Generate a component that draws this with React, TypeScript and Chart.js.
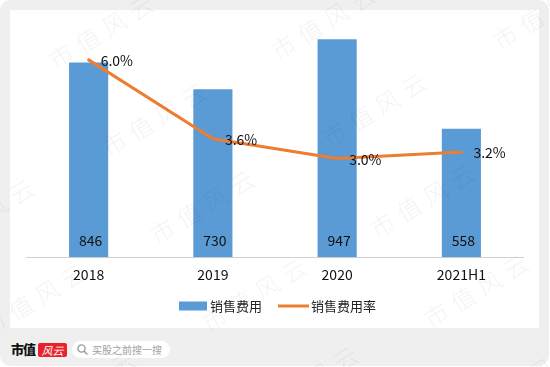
import React, { useEffect, useRef } from "react";
import { Chart, registerables } from "chart.js";

Chart.register(...registerables);

const categories = ["2018", "2019", "2020", "2021H1"];
const salesExpense = [846, 730, 947, 558];
const salesExpenseRate = [6.0, 3.6, 3.0, 3.2];
const seriesNames = ["销售费用", "销售费用率"];
const watermarkText = "市值风云";
const brandText = "市值";
const brandBadgeText = "风云";
const searchText = "买股之前搜一搜";

const FONT = "'Noto Sans CJK SC', 'Microsoft YaHei', sans-serif";
const BAR_COLOR = "#5B9BD5";
const LINE_COLOR = "#ED7D31";

const watermarkSpots: Array<[number, number]> = [
  [57, 72], [279, 63], [501, 53],
  [110, 160], [330, 150],
  [-62, 256], [158, 247], [378, 241],
  [-10, 340], [210, 335], [432, 331],
  [40, 428], [262, 423], [484, 419],
];

const valueLabelPlugin = {
  id: "valueLabels",
  afterDatasetsDraw(chart: any) {
    const ctx = chart.ctx;
    ctx.save();
    ctx.font = `14px ${FONT}`;
    ctx.fillStyle = "#111";
    ctx.textBaseline = "middle";
    const yScale = chart.scales.y;
    const base = yScale.getPixelForValue(0);
    const barMeta = chart.getDatasetMeta(0);
    barMeta.data.forEach((el: any, i: number) => {
      ctx.textAlign = "center";
      ctx.fillText(String(salesExpense[i]), el.x + 2, base - 17);
    });
    const lineMeta = chart.getDatasetMeta(1);
    lineMeta.data.forEach((el: any, i: number) => {
      ctx.textAlign = "left";
      ctx.fillText(salesExpenseRate[i].toFixed(1) + "%", el.x + 12, el.y + 1);
    });
    ctx.restore();
  },
};

const legendPlugin = {
  id: "bottomLegend",
  afterDraw(chart: any) {
    const ctx = chart.ctx;
    const ds = chart.data.datasets;
    ctx.save();
    ctx.font = `13px ${FONT}`;
    ctx.textBaseline = "middle";
    ctx.textAlign = "left";
    const w1 = ctx.measureText(ds[0].label).width;
    const w2 = ctx.measureText(ds[1].label).width;
    const total = 28 + 3 + w1 + 16 + 31 + 2 + w2;
    const cx = chart.width / 2 + 3;
    const y = chart.height - 22;
    let x = cx - total / 2;
    ctx.fillStyle = ds[0].backgroundColor;
    ctx.fillRect(x, y - 4.5, 28, 9);
    x += 31;
    ctx.fillStyle = "#222";
    ctx.fillText(ds[0].label, x, y);
    x += w1 + 16;
    ctx.strokeStyle = ds[1].borderColor;
    ctx.lineWidth = 3;
    ctx.beginPath();
    ctx.moveTo(x, y);
    ctx.lineTo(x + 31, y);
    ctx.stroke();
    x += 33;
    ctx.fillText(ds[1].label, x, y);
    ctx.restore();
  },
};

function ChartCanvas() {
  const ref = useRef<HTMLCanvasElement | null>(null);
  useEffect(() => {
    if (!ref.current) return;
    const chart = new Chart(ref.current, {
      type: "bar",
      data: {
        labels: categories,
        datasets: [
          {
            type: "bar",
            label: seriesNames[0],
            data: salesExpense,
            backgroundColor: BAR_COLOR,
            borderWidth: 0,
            yAxisID: "y",
            order: 2,
            categoryPercentage: 1,
            barPercentage: 0.315,
          } as any,
          {
            type: "line",
            label: seriesNames[1],
            data: salesExpenseRate,
            borderColor: LINE_COLOR,
            backgroundColor: LINE_COLOR,
            borderWidth: 3,
            pointRadius: 0,
            pointHoverRadius: 0,
            yAxisID: "y1",
            order: 1,
            tension: 0,
            borderJoinStyle: "round",
            borderCapStyle: "round",
          } as any,
        ],
      },
      options: {
        responsive: false,
        animation: false,
        layout: { padding: { left: 16.5, right: 15.5, top: 17, bottom: 36 } },
        scales: {
          x: {
            grid: { display: false, drawTicks: false },
            border: { display: true, color: "#d0d0d0", width: 1 },
            ticks: { padding: 9, color: "#111", font: { size: 14, family: FONT } },
          },
          y: { display: false, min: 0, max: 1000 },
          y1: { display: false, min: 0, max: 7, position: "right" },
        },
        plugins: {
          legend: { display: false },
          tooltip: { enabled: false },
        },
      } as any,
      plugins: [valueLabelPlugin, legendPlugin],
    });
    return () => chart.destroy();
  }, []);
  return <canvas ref={ref} width={529} height={318} style={{ display: "block", width: 529, height: 318 }} />;
}

export default function App() {
  return (
    <div style={{ position: "absolute", left: 0, top: 0, width: 550, height: 367, background: "#fff", overflow: "hidden", fontFamily: FONT }}>
      <div style={{ position: "absolute", left: 0, top: 0, width: 549, height: 366, background: "#efefef", borderRadius: 11 }} />
      <div style={{ position: "absolute", left: 10, top: 10, width: 529, height: 318, background: "#fff" }}>
        <ChartCanvas />
      </div>
      <div style={{ position: "absolute", left: 11, top: 340, fontSize: 13, fontWeight: 900, color: "#111", lineHeight: "18px", letterSpacing: -1 }}>{brandText}</div>
      <div style={{ position: "absolute", left: 38, top: 343, width: 29, height: 14, background: "#e8222a", borderRadius: 2, color: "#fff", fontSize: 11, lineHeight: "14px", textAlign: "center", fontStyle: "italic" }}>{brandBadgeText}</div>
      <div style={{ position: "absolute", left: 72, top: 341, width: 98, height: 17, background: "#fff", borderRadius: 9 }}>
        <svg width="11" height="11" style={{ position: "absolute", left: 5, top: 3 }} viewBox="0 0 11 11">
          <circle cx="4.5" cy="4.5" r="3.6" fill="none" stroke="#9a9a9a" strokeWidth="1.3" />
          <line x1="7.2" y1="7.2" x2="10" y2="10" stroke="#9a9a9a" strokeWidth="1.4" strokeLinecap="round" />
        </svg>
        <div style={{ position: "absolute", left: 20, top: 0, fontSize: 10, lineHeight: "17px", color: "#a0a0a0", whiteSpace: "nowrap" }}>{searchText}</div>
      </div>
      {watermarkSpots.map(([x, y], i) => (
        <div
          key={i}
          style={{
            position: "absolute",
            left: x,
            top: y - 24,
            fontSize: 24,
            lineHeight: "24px",
            letterSpacing: 7,
            color: "rgba(0,0,0,0.05)",
            whiteSpace: "nowrap",
            transform: "rotate(-31.5deg)",
            transformOrigin: "0 100%",
            pointerEvents: "none",
            fontWeight: 300,
          }}
        >
          {watermarkText}
        </div>
      ))}
    </div>
  );
}
